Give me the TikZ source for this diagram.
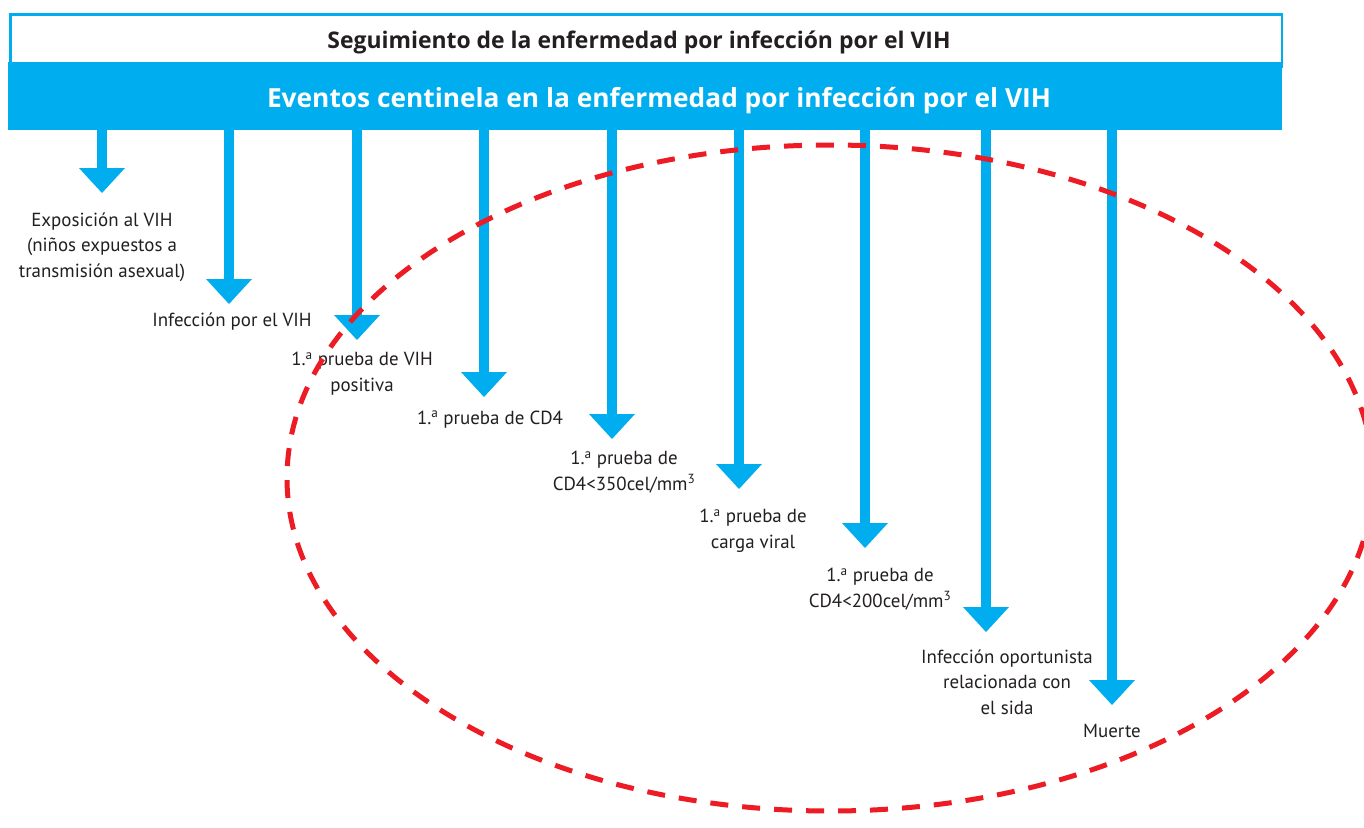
\documentclass[tikz,border=0pt]{standalone}
\usepackage{fontspec}
\setmainfont{PT Sans}
\newfontfamily\headfont{Open Sans}
\usetikzlibrary{calc}
\definecolor{vihblue}{HTML}{00AEEF}
\definecolor{vihred}{HTML}{ED1C24}
\definecolor{vihtext}{HTML}{231F20}
\begin{document}
\begin{tikzpicture}[x=1bp,y=-1bp,
  lbl/.style={align=center,font=\fontsize{19}{25.5}\selectfont,text=vihtext,inner sep=0pt,anchor=base},
  shaft/.style={draw=vihblue,line width=10.5bp},
  head/.style={fill=vihblue},
  ring/.style={draw=vihred,line width=5bp,dash pattern=on 18bp off 14bp}]
\useasboundingbox (0,0) rectangle (1364,827);
\clip (0,0) rectangle (1364,827);
\fill[white] (0,0) rectangle (1364,827);
% title box
\node[draw=vihblue,line width=2.5bp,fill=white,inner sep=0pt,anchor=north west,
      minimum width=1271.5bp,minimum height=52bp] (titlebox) at (9.25,13.25) {};
\node[fill=vihblue,inner sep=0pt,anchor=north west,minimum width=1274bp,minimum height=68bp] (band) at (8,62) {};
\node[font=\headfont\bfseries\fontsize{23}{26}\selectfont,text=vihtext,inner sep=0pt,anchor=base] (title) at (639,48) {Seguimiento de la enfermedad por infección por el VIH};
\node[font=\headfont\bfseries\fontsize{26.4}{32}\selectfont,text=white,inner sep=0pt,anchor=base] (subtitle) at (659,107) {Eventos centinela en la enfermedad por infección por el VIH};
% arrows
\foreach \i/\ax/\ty in {1/102/193,2/229/304,3/357/340,4/484/397,5/612/439,6/739/489,7/865/548,8/986/632,9/1112/705}{
  \coordinate (t\i) at (\ax,\ty);
  \draw[shaft] (band.south -| t\i) -- ($(t\i)+(0,-24)$);
  \fill[head] (t\i) -- ($(t\i)+(-23,-25)$) -- ($(t\i)+(23,-25)$) -- cycle;
}
% labels (anchor = baseline of last line)
\node[lbl] (l1) at (102,277) {Exposición al VIH\\(niños expuestos a\\transmisión asexual)};
\node[lbl] (l2) at (232,326) {Infección por el VIH};
\node[lbl] (l3) at (362,391) {1.\textsuperscript{a} prueba de VIH\\positiva};
\node[lbl] (l4) at (490,424) {1.\textsuperscript{a} prueba de CD4};
\node[lbl] (l5) at (624,490) {1.\textsuperscript{a} prueba de\\CD4<350cel/mm\textsuperscript{3}};
\node[lbl] (l6) at (753,548) {1.\textsuperscript{a} prueba de\\carga viral};
\node[lbl] (l7) at (880,607) {1.\textsuperscript{a} prueba de\\CD4<200cel/mm\textsuperscript{3}};
\node[lbl] (l8) at (1007,714) {Infección oportunista\\relacionada con\\el sida};
\node[lbl] (l9) at (1112,737) {Muerte};
% dashed ellipse
\draw[ring] (830,478) ellipse [x radius=543, y radius=333];
\end{tikzpicture}
\end{document}
